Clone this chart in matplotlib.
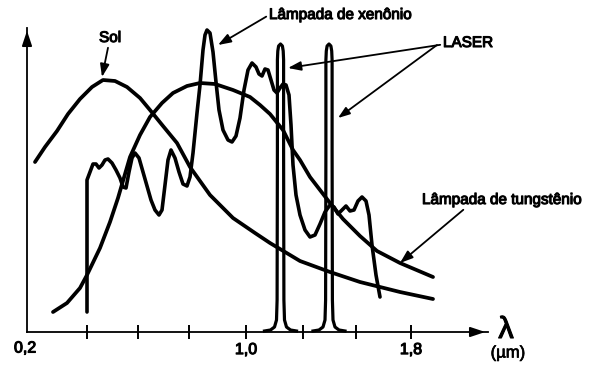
import numpy as np
import matplotlib.pyplot as plt
import matplotlib.patheffects as pe

# =========================================================
# Data (schematic: x = position along the lambda axis, y = relative intensity)
# =========================================================
# Sun spectrum
sol_x = [35, 45, 57, 68, 80, 92, 103, 115, 127, 140, 150, 163, 177, 190,
         210, 233, 255, 270, 300, 330, 360, 400, 433]
sol_y = [170, 185, 201, 218, 233, 245, 252, 251, 245, 234, 222, 206, 189, 165,
         137, 114, 99, 89, 71, 60, 50, 40, 33]

# Tungsten lamp
tung_x = [53, 67, 80, 87, 100, 110, 118, 130, 140, 150, 162, 173, 187, 200,
          215, 233, 250, 260, 270, 283, 293, 300, 310, 320, 330, 343, 360,
          377, 400, 433]
tung_y = [20, 29, 44, 57, 84, 110, 134, 175, 197, 215, 229, 239, 246, 249,
          248, 242, 235, 227, 218, 202, 182, 172, 155, 142, 129, 113, 96,
          81, 69, 55]

# Xenon lamp
xen_x = [87, 87, 87, 90, 93, 96, 99, 102, 105, 108, 112, 116, 120, 123, 126,
         129, 132, 135, 139, 143, 147, 151, 155, 159, 162, 165, 168, 171, 175,
         179, 183, 187, 190, 193, 195, 197, 200, 203, 205, 207, 210, 213, 216,
         219, 223, 228, 232, 236, 240, 244, 248, 252, 256, 259, 262, 265, 268,
         271, 274, 277, 280, 283, 286, 289, 291, 293, 296, 300, 305, 310, 315,
         320, 325, 330, 334, 338, 342, 346, 350, 354, 358, 362, 366, 369, 372,
         376, 380]
xen_y = [20, 82, 152, 160, 168, 168, 164, 167, 172, 173, 169, 162, 154, 145, 144,
         160, 174, 179, 174, 160, 146, 132, 122, 117, 122, 147, 172, 182, 174,
         160, 148, 146, 155, 179, 199, 219, 247, 282, 297, 302, 299, 280, 250,
         222, 202, 192, 190, 196, 214, 242, 262, 269, 265, 258, 256, 263, 262,
         252, 242, 239, 244, 248, 247, 237, 207, 167, 137, 117, 102, 95, 97,
         108, 120, 127, 125, 118, 122, 126, 121, 122, 131, 135, 131, 117, 87,
         57, 35]

# Laser lines: centres and a shared narrow line profile
laser_centers = [280.5, 329]
laser_dx = [-16, -10, -6, -4, -3.4, -3.1, -3.1, -2.7, -1.9, 0, 1.9, 2.7, 3.1,
            3.1, 3.4, 4, 6, 10, 16]
laser_y = [1, 2, 5, 12, 32, 182, 272, 281, 286, 288, 286, 281, 272, 182,
           32, 12, 5, 2, 1]

# Axis ticks
tick_pos = [87, 138, 189, 246, 303, 356, 411]
tick_labels = ["", "", "", "1,0", "", "", "1,8"]
origin_label = "0,2"

# =========================================================
# Figure
# =========================================================
plt.rcParams["font.family"] = ["Liberation Sans", "DejaVu Sans"]

fig = plt.figure(figsize=(6, 3.69), dpi=100)
ax = fig.add_axes([27 / 600, 37 / 369, 461 / 600, 304 / 369])
ax.set_xlim(27, 488)
ax.set_ylim(0, 304)

LW = 2.7
ink = "black"
ax.plot(sol_x, sol_y, color=ink, lw=LW, solid_capstyle="round", clip_on=False)
ax.plot(tung_x, tung_y, color=ink, lw=LW, solid_capstyle="round", clip_on=False)
ax.plot(xen_x, xen_y, color=ink, lw=2.6, solid_capstyle="round",
        solid_joinstyle="round", clip_on=False)
for c in laser_centers:
    ax.plot(np.array(laser_dx) + c, laser_y, color=ink, lw=2.3,
            solid_joinstyle="round", clip_on=False)

# axes with arrows
for s in ["top", "right"]:
    ax.spines[s].set_visible(False)
for s in ["left", "bottom"]:
    ax.spines[s].set_linewidth(1.3)
ax.annotate("", xy=(488, 0), xytext=(470, 0), annotation_clip=False,
            arrowprops=dict(arrowstyle="-|>,head_length=0.9,head_width=0.3",
                            color=ink, lw=1.3))
ax.annotate("", xy=(27, 304), xytext=(27, 285), annotation_clip=False,
            arrowprops=dict(arrowstyle="-|>,head_length=0.9,head_width=0.3",
                            color=ink, lw=1.3))

bold = [pe.withStroke(linewidth=0.8, foreground=ink)]

ax.set_yticks([])
ax.set_xticks(tick_pos)
ax.set_xticklabels(tick_labels, fontsize=11.5)
for lab in ax.get_xticklabels():
    lab.set_path_effects(bold)
ax.tick_params(axis="x", direction="inout", length=9.5, width=1.4, pad=2.5)
ax.text(25, -16, origin_label, fontsize=11.5, ha="center", va="center",
        path_effects=bold)

arrow = dict(arrowstyle="-|>,head_length=0.7,head_width=0.25", color=ink,
             lw=1.3, shrinkA=0, shrinkB=0)
txt = dict(fontsize=11, path_effects=bold, annotation_clip=False)

ax.annotate("Sol", xy=(102, 255), xytext=(110, 294), ha="center", va="center",
            arrowprops=arrow, **txt)
ax.annotate("Lâmpada de xenônio", xy=(218, 287), xytext=(269, 317),
            ha="left", va="center",
            arrowprops=dict(arrow, relpos=(0, 0.5)), **txt)
ax.annotate("LASER", xy=(288, 264), xytext=(443, 289), ha="left", va="center",
            arrowprops=dict(arrow, relpos=(0, 0.4)), **txt)
ax.annotate("", xy=(338, 214), xytext=(437, 287), annotation_clip=False,
            arrowprops=arrow)
ax.annotate("Lâmpada de tungstênio", xy=(400, 69), xytext=(422, 132),
            ha="left", va="center",
            arrowprops=dict(arrow, relpos=(0.28, 0)), **txt)

ax.text(506, 2, "λ", fontsize=22, ha="center", va="center", path_effects=bold)
ax.text(508, -21, "(µm)", fontsize=12, ha="center", va="center",
        path_effects=[pe.withStroke(linewidth=0.5, foreground=ink)])

plt.savefig("out.png", dpi=100)
